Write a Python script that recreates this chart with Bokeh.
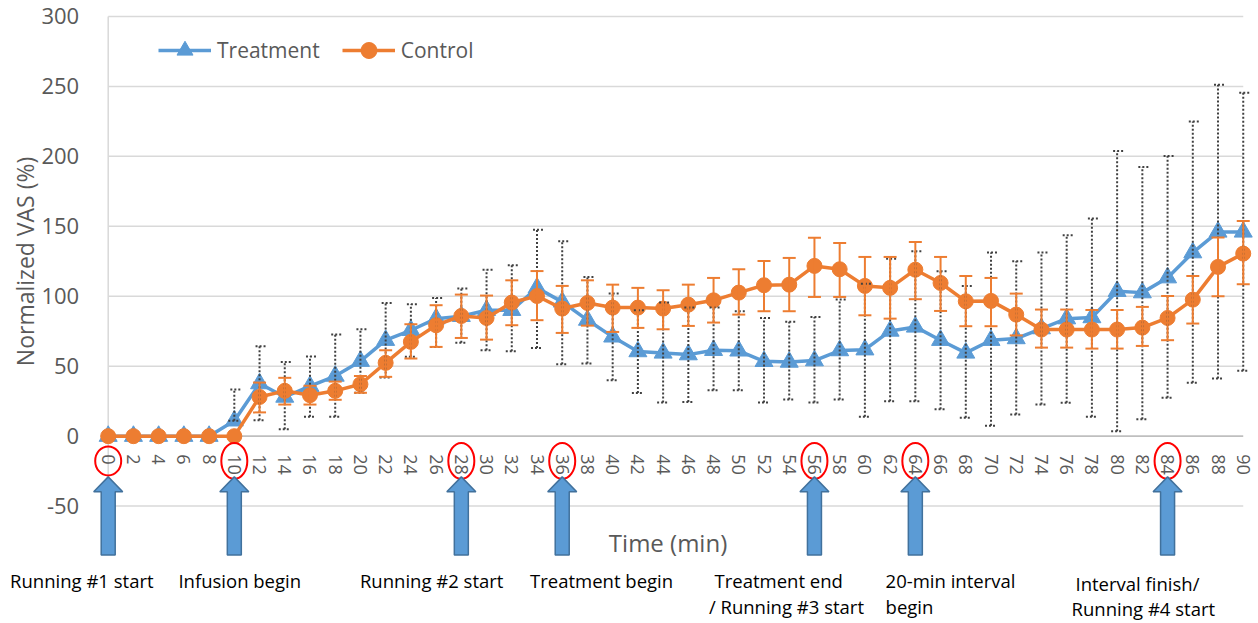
import math
from bokeh.plotting import figure
from bokeh.models import (ColumnDataSource, FixedTicker, Whisker, TeeHead, Legend,
                          LegendItem, Label, Range1d)
from bokeh.embed import file_html
from bokeh.resources import INLINE

# ---------------- data ----------------
time_min = [0, 2, 4, 6, 8, 10, 12, 14, 16, 18, 20, 22, 24, 26, 28, 30, 32, 34, 36, 38,
            40, 42, 44, 46, 48, 50, 52, 54, 56, 58, 60, 62, 64, 66, 68, 70, 72, 74, 76, 78,
            80, 82, 84, 86, 88, 90]

treatment = [0, 0, 0, 0, 0, 11, 37.6, 28, 35.7, 43, 53.6, 68.6, 75.7, 84, 85.7, 90, 90, 106,
             96, 83, 71, 60.5, 59.5, 58.3, 61.4, 61, 53.5, 53, 54, 61.2, 61.8, 75.2, 78.1,
             68.6, 59.5, 68.6, 69.8, 76.9, 84, 84.8, 103.6, 102.6, 113.3, 131.2, 146, 146]
treatment_upper = [0, 0, 0, 0, 0, 33.3, 64.3, 53, 57, 72.6, 76.4, 95.2, 94.3, 98.8, 105.5,
                   119, 122.1, 147.6, 139.3, 113.8, 101.9, 90, 95.5, 92, 91.9, 89.3, 84.5,
                   81.7, 85.2, 97.6, 109, 126.9, 132.1, 117.9, 107.4, 131.2, 125, 131.2,
                   143.6, 155.5, 203.8, 192.4, 200.2, 225, 251.2, 245.5]
treatment_lower = [0, 0, 0, 0, 0, 11, 11.4, 5, 13.8, 13.8, 31, 42, 56.7, 63.8, 66.7, 61.4,
                   60.7, 63.1, 51.4, 52, 40, 30.9, 24, 24.5, 32.9, 32.9, 24, 26.2, 24, 26.2,
                   13.8, 25, 25, 19.3, 13.1, 7.4, 15.5, 22.6, 23.8, 13.8, 3.6, 12.1, 27.4,
                   38.1, 41.2, 46.7]

control = [0, 0, 0, 0, 0, 0, 28, 32.4, 29.3, 32.4, 37.1, 52.4, 67.4, 79.3, 85.9, 84.5, 95.5,
           100.2, 91.2, 95.2, 91.9, 91.9, 91.2, 94, 97.1, 102.6, 107.9, 108.3, 121.7, 119.3,
           107.4, 106, 119, 109.5, 96.4, 96.7, 86.9, 76.2, 76.2, 76.2, 76.2, 77.6, 84.5,
           97.6, 121, 130.5]
control_upper = [0, 0, 0, 0, 0, 0, 38.3, 41.7, 36, 39, 43, 61.4, 80, 93.6, 101.2, 100.5,
                 111.4, 118, 107.4, 111.4, 108.3, 106, 104.3, 108.3, 113.1, 119.3, 125.2,
                 127.4, 141.9, 138.1, 128.1, 128.1, 138.8, 128.1, 114.5, 113.1, 101.9, 90.5,
                 90.5, 90.2, 90.2, 92.4, 100.2, 114.5, 142, 153.8]
control_lower = [0, 0, 0, 0, 0, 0, 17, 22.6, 22.6, 26, 31, 42.4, 55.5, 63.8, 70.2, 69,
                 79.3, 82.9, 73.8, 79, 74.5, 77.4, 76.4, 78.8, 81.2, 86.9, 89.3, 89.3, 99.5,
                 99.5, 86.4, 84, 97.9, 89.5, 78.6, 78.6, 72, 63.3, 63.3, 62.6, 62.6, 64.5,
                 68.6, 80.5, 100, 108.6]

y_ticks = [-50, 0, 50, 100, 150, 200, 250, 300]
y_tick_labels = ["-50", "0", "50", "100", "150", "200", "250", "300"]

event_times = [0, 10, 28, 36, 56, 64, 84]
event_texts = ["Running #1 start", "Infusion begin", "Running #2 start", "Treatment begin",
               "Treatment end", "/ Running #3 start", "20-min interval", "begin",
               "Interval finish/", "Running #4 start"]
event_text_x = [-7.78, 5.57, 19.96, 33.45, 48.08, 47.63, 61.64, 61.64, 76.7, 76.39]
event_text_y = [-103.1, -103.1, -103.1, -103.1, -103.1, -122.0, -103.1, -122.0, -105.3, -123.3]

BLUE = "#5B9BD5"
ORANGE = "#ED7D31"
GRAY_TXT = "#595959"
FONT = "Open Sans"

# ---------------- figure ----------------
p = figure(width=1258, height=623, output_backend="svg", toolbar_location=None,
           x_range=Range1d(-8.54, 91.21), y_range=Range1d(-133.9, 311.4),
           min_border_left=0, min_border_right=0, min_border_top=0, min_border_bottom=0)
p.outline_line_color = None
p.background_fill_color = "white"
p.border_fill_color = "white"

# axes (placed at data locations inside the frame)
p.xaxis.ticker = FixedTicker(ticks=time_min)
p.xaxis.fixed_location = 0
p.xaxis.axis_line_color = None
p.xaxis.major_tick_line_color = None
p.xaxis.minor_tick_line_color = None
p.xaxis.major_label_orientation = "vertical"
p.xaxis.major_label_standoff = 12
p.xaxis.major_label_text_font = FONT
p.xaxis.major_label_text_font_size = "18px"
p.xaxis.major_label_text_color = GRAY_TXT

p.yaxis.ticker = FixedTicker(ticks=y_ticks)
p.yaxis.major_label_overrides = dict(zip(y_ticks, y_tick_labels))
p.yaxis.fixed_location = 0
p.yaxis.axis_line_color = None
p.yaxis.major_tick_line_color = None
p.yaxis.minor_tick_line_color = None
p.yaxis.major_label_standoff = 23
p.yaxis.major_label_text_font = FONT
p.yaxis.major_label_text_font_size = "22px"
p.yaxis.major_label_text_color = GRAY_TXT

p.xgrid.grid_line_color = None
p.ygrid.grid_line_color = None

# gridlines limited to the plot area (x = 0 .. 90)
grid_vals = [v for v in y_ticks if v != 0]
p.segment(x0=[time_min[0]] * len(grid_vals), y0=grid_vals,
          x1=[time_min[-1]] * len(grid_vals), y1=grid_vals,
          line_color="#d9d9d9", line_width=1.5)
# vertical axis line and horizontal axis line at 0
p.segment(x0=[0], y0=[-85], x1=[0], y1=[300], line_color="#d9d9d9", line_width=1.5)
p.segment(x0=[time_min[0]], y0=[0], x1=[time_min[-1]], y1=[0], line_color="#bfbfbf",
          line_width=1.8)

# error bars
t_idx = [i for i in range(len(time_min)) if treatment_upper[i] != treatment_lower[i]]
t_err = ColumnDataSource(dict(x=[time_min[i] for i in t_idx],
                              up=[treatment_upper[i] for i in t_idx],
                              lo=[treatment_lower[i] for i in t_idx]))
c_idx = [i for i in range(len(time_min)) if control_upper[i] != control_lower[i]]
c_err = ColumnDataSource(dict(x=[time_min[i] for i in c_idx],
                              up=[control_upper[i] for i in c_idx],
                              lo=[control_lower[i] for i in c_idx]))

tw = Whisker(source=t_err, base="x", upper="up", lower="lo", dimension="height",
             line_color="#404040", line_width=2, line_dash="2 2", level="glyph",
             upper_head=TeeHead(size=12, line_color="#404040", line_width=2, line_dash="2 2"),
             lower_head=TeeHead(size=12, line_color="#404040", line_width=2, line_dash="2 2"))
cw = Whisker(source=c_err, base="x", upper="up", lower="lo", dimension="height",
             line_color=ORANGE, line_width=2, level="glyph",
             upper_head=TeeHead(size=13, line_color=ORANGE, line_width=2),
             lower_head=TeeHead(size=13, line_color=ORANGE, line_width=2))
p.add_layout(tw)
p.add_layout(cw)

src = ColumnDataSource(dict(x=time_min, t=treatment, c=control))
t_line = p.line("x", "t", source=src, line_color=BLUE, line_width=3.5)
t_sc = p.scatter("x", "t", source=src, marker="triangle", size=18, fill_color=BLUE,
                 line_color=BLUE)
c_line = p.line("x", "c", source=src, line_color=ORANGE, line_width=3.5)
c_sc = p.scatter("x", "c", source=src, marker="circle", size=15, fill_color=ORANGE,
                 line_color=ORANGE)

# red circles around the event tick labels
ev_src = ColumnDataSource(dict(x=event_times, y=[-17.7] * len(event_times),
                               h=[22 + 7 * len(str(t)) for t in event_times]))
p.ellipse(x="x", y="y", width=26, height="h", source=ev_src, width_units="screen",
          height_units="screen", fill_color=None, line_color="red", line_width=2)

# up arrows
tip, base, bottom = -29.1, -39.8, -85
hw, sw = 1.15, 0.555
xs = [[t, t + hw, t + sw, t + sw, t - sw, t - sw, t - hw] for t in event_times]
ys = [[tip, base, base, bottom, bottom, base, base] for t in event_times]
p.patches(xs, ys, fill_color=BLUE, line_color="#41719C", line_width=1.5)

# event texts
for txt, x, y in zip(event_texts, event_text_x, event_text_y):
    p.add_layout(Label(x=x, y=y, text=txt, text_font=FONT, text_font_size="18.5px",
                       text_color="black", text_align="left", text_baseline="middle"))

# axis titles
p.add_layout(Label(x=-6.56, y=124.9, text="Normalized VAS (%)", angle=math.pi / 2,
                   text_font=FONT, text_font_size="23px", text_color=GRAY_TXT,
                   text_align="center", text_baseline="middle"))
p.add_layout(Label(x=44.39, y=-75.8, text="Time (min)", text_font=FONT,
                   text_font_size="24px", text_color=GRAY_TXT,
                   text_align="center", text_baseline="middle"))

# legend
legend = Legend(items=[LegendItem(label="Treatment", renderers=[t_line, t_sc]),
                       LegendItem(label="Control", renderers=[c_line, c_sc])],
                orientation="horizontal", location=(158, 553), glyph_width=53,
                glyph_height=40, label_standoff=6, spacing=22, padding=0, margin=0,
                border_line_color=None, background_fill_alpha=0,
                label_text_font=FONT, label_text_font_size="21px",
                label_text_color=GRAY_TXT)
p.add_layout(legend, "center")

open("out.html", "w").write(file_html(p, INLINE))
